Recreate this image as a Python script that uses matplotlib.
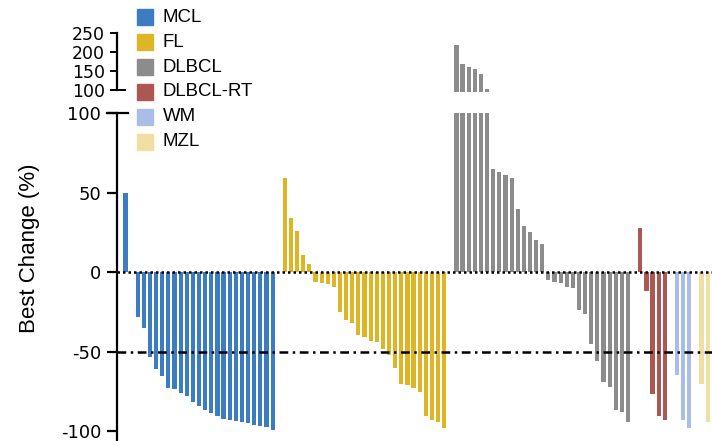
import matplotlib
matplotlib.use("Agg")
import matplotlib.pyplot as plt
from matplotlib.patches import Rectangle
from matplotlib.transforms import blended_transform_factory
import numpy as np

# Best percentage change per patient, ordered within each histology
groups = ["MCL", "FL", "DLBCL", "DLBCL-RT", "WM", "MZL"]
mcl = [50, 0, -28, -35, -53, -61, -65, -73, -73.5, -75.7, -78, -81.3, -84, -86.5,
       -88.6, -90.3, -92.2, -92.8, -93.4, -93.9, -94.9, -95.9, -96.6, -97, -99]
fl = [59, 34, 26, 11, 5, -6, -6.5, -7.5, -9, -25, -30, -32, -39.5, -40.5, -43, -44,
      -48, -52, -60, -70, -71, -73, -75, -90, -93, -94, -98]
dlbcl = [219, 169, 160, 155, 141, 103, 65, 63, 61, 59, 40, 29, 25, 20, 18,
         -5, -6, -7, -9, -10, -24, -26, -45, -56, -69, -72, -86.5, -87.5, -94]
dlbcl_rt = [28, -12, -76.5, -90, -93]
wm = [-64.5, -93, -98]
mzl = [-70, -94]
series = [mcl, fl, dlbcl, dlbcl_rt, wm, mzl]
colors = ["#3b7cc3", "#dcb625", "#8c8c8c", "#ad5752", "#aabde6", "#f1dea2"]

main_ticks = [100, 50, 0, -50, -100]
top_ticks = [100, 150, 200, 250]

W, H = 712, 441
fig = plt.figure(figsize=(W / 100, H / 100), dpi=100)
plt.rcParams["font.family"] = ["DejaVu Sans"]
label_font = ["Liberation Sans", "DejaVu Sans"]

left = 117.3 / W
ax = fig.add_axes([left, 0.0, 1 - left, 328 / H])
ax_top = fig.add_axes([left, 1 - 91.5 / H, 1 - left, (91.5 - 33.3) / H])

# x positions: consecutive bars, one empty slot between histologies
xs_all, ys_all, cs_all = [], [], []
pos = 0
for vals, c in zip(series, colors):
    for v in vals:
        xs_all.append(pos)
        ys_all.append(v)
        cs_all.append(c)
        pos += 1
    pos += 1

for a in (ax, ax_top):
    a.bar(xs_all, ys_all, width=0.68, color=cs_all, zorder=2)
    a.set_xlim(-1.34, 95.7)
    for s in ("top", "right", "bottom"):
        a.spines[s].set_visible(False)
    a.spines["left"].set_linewidth(1.6)
    a.set_xticks([])
    a.patch.set_alpha(0)

ax.set_ylim(-106, 100)
ax.set_yticks(main_ticks)
ax.set_yticklabels([str(t) for t in main_ticks])
ax.tick_params(axis="y", length=7.5, width=1.6, labelsize=13, pad=4)

ax_top.set_ylim(96, 250)
ax_top.spines["left"].set_bounds(100, 250)
ax_top.set_yticks(top_ticks)
ax_top.set_yticklabels([str(t) for t in top_ticks])
ax_top.tick_params(axis="y", length=5, width=1.4, labelsize=12.5, pad=4)

# reference lines
ax.axhline(0, color="black", lw=1.8, linestyle=(0, (1, 1.2)), zorder=3)
ax.axhline(-50, color="black", lw=1.8, linestyle=(0, (3.5, 1.8, 1, 1.8)), zorder=3)

# axis-break caps at 100 on both segments
tr_main = blended_transform_factory(fig.transFigure, ax.transData)
ax.plot([106.7 / W, 128.3 / W], [100, 100], transform=tr_main, color="black",
        lw=1.6, clip_on=False, zorder=4)
tr_top = blended_transform_factory(fig.transFigure, ax_top.transData)
ax_top.plot([111 / W, 125 / W], [100, 100], transform=tr_top, color="black",
            lw=1.4, clip_on=False, zorder=4)

fig.text(30 / W, 1 - 248 / H, "Best Change (%)", rotation=90, ha="center",
         va="center", fontsize=16, family=label_font)

# legend
for i, (g, c) in enumerate(zip(groups, colors)):
    yc = 17.3 + i * 24.9
    fig.add_artist(Rectangle((136.7 / W, 1 - (yc + 8) / H), 16 / W, 16 / H,
                             transform=fig.transFigure, color=c))
    fig.text(162.7 / W, 1 - yc / H, g, ha="left", va="center", fontsize=13.4,
             family=label_font)

fig.savefig("out.png", dpi=100)
